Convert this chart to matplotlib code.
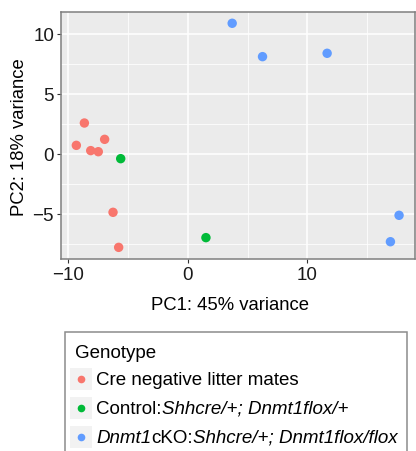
import matplotlib.pyplot as plt
from matplotlib.patches import Rectangle
from matplotlib.lines import Line2D

plt.rcParams['font.family'] = ['Liberation Sans', 'DejaVu Sans']

# --- data ---
cre_neg_x = [-8.61, -9.28, -8.08, -7.45, -6.92, -6.22, -5.75]
cre_neg_y = [2.58, 0.72, 0.28, 0.19, 1.22, -4.86, -7.78]
control_x = [-5.58, 1.53]
control_y = [-0.39, -6.97]
cko_x = [3.72, 6.25, 11.64, 17.64, 16.92]
cko_y = [10.89, 8.11, 8.39, -5.11, -7.31]

groups = [
    (cre_neg_x, cre_neg_y, '#F8766D'),
    (control_x, control_y, '#00BA38'),
    (cko_x, cko_y, '#619CFF'),
]
# legend labels as (text, italic) pieces
legend_labels = [
    [("Cre negative litter mates", False)],
    [("Control:", False), ("Shhcre/+; Dnmt1flox/+", True)],
    [("Dnmt1", True), ("cKO:", False), ("Shhcre/+; Dnmt1flox/flox", True)],
]

W, H = 416, 452
fig = plt.figure(figsize=(W / 100, H / 100), dpi=100)
ax = fig.add_axes([61 / W, 1 - 260 / H, (415 - 61) / W, (260 - 13) / H])
ax.set_facecolor('#EBEBEB')

for xs, ys, col in groups:
    ax.scatter(xs, ys, s=46, color=col, edgecolors='none', zorder=3)

ax.set_xlim(-10.56, 18.97)
ax.set_ylim(-8.75, 11.83)
ax.set_xticks([-10, 0, 10])
ax.set_yticks([-5, 0, 5, 10])
ax.set_xticks([-5, 5, 15], minor=True)
ax.set_yticks([-7.5, -2.5, 2.5, 7.5], minor=True)
ax.grid(which='major', color='white', linewidth=1.1)
ax.grid(which='minor', color='white', linewidth=0.55)
ax.set_axisbelow(True)
ax.tick_params(which='major', length=3, width=0.8, color='#333333',
               labelsize=13.5, labelcolor='#1A1A1A', pad=2)
ax.tick_params(which='minor', length=0)
for sp in ax.spines.values():
    sp.set_color('#7F7F7F')
    sp.set_linewidth(1.1)

ax.set_xlabel('PC1: 45% variance', fontsize=13.3)
ax.set_ylabel('PC2: 18% variance', fontsize=13.3)
ax.xaxis.set_label_coords((230 - 61) / (415 - 61), -(297 - 260) / (260 - 13))
ax.yaxis.set_label_coords(-(61 - 28) / (415 - 61), (260 - 137) / (260 - 13))


# --- legend box drawn manually (mixed roman / italic labels) ---
def fx(px):
    return px / W


def fy(py):
    return 1 - py / H


fig.patches.append(Rectangle((fx(65), fy(455)), fx(407) - fx(65), fy(333) - fy(455),
                             transform=fig.transFigure, facecolor='white',
                             edgecolor='#8C8C8C', linewidth=1.1))
fig.text(fx(75), fy(353), 'Genotype', fontsize=13.5, va='center', ha='left')

renderer = fig.canvas.get_renderer()
row_y = [380, 409, 438]
for (xs, ys, col), pieces, ry in zip(groups, legend_labels, row_y):
    fig.patches.append(Rectangle((fx(70), fy(ry + 11)), fx(22), 22 / H,
                                 transform=fig.transFigure,
                                 facecolor='#F2F2F2', edgecolor='none'))
    fig.lines.append(Line2D([fx(81)], [fy(ry)], transform=fig.transFigure,
                            marker='o', markersize=5.5, color=col,
                            markeredgecolor='none', linestyle='none'))
    x_px = 96
    for txt, ital in pieces:
        t = fig.text(fx(x_px), fy(ry + 5), txt, fontsize=13.5,
                     style='italic' if ital else 'normal',
                     va='baseline', ha='left')
        x_px += t.get_window_extent(renderer).width

fig.savefig('out.png', dpi=100)
